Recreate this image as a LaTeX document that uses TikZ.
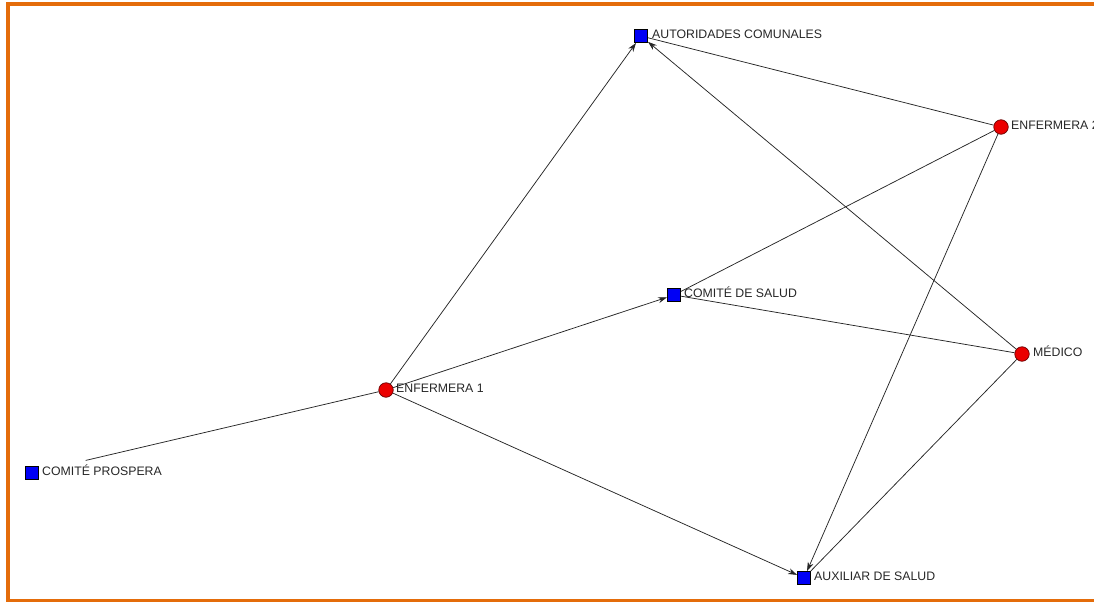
\documentclass[tikz,border=0pt]{standalone}
\usepackage{fontspec}
\setmainfont{Liberation Sans}
\usetikzlibrary{arrows.meta}
\definecolor{frameorange}{RGB}{228,108,10}
\definecolor{nodeblue}{RGB}{0,0,245}
\definecolor{nodered}{RGB}{235,0,0}
\begin{document}
\begin{tikzpicture}[x=1pt,y=-1pt,
  sq/.style={draw=black, fill=nodeblue, minimum size=13pt, inner sep=0pt, line width=0.9pt},
  ci/.style={circle, draw=black!60!red, fill=nodered, minimum size=14.5pt, inner sep=0pt, line width=0.7pt},
  lbl/.style={font=\fontsize{12.3}{14}\selectfont, text=black!85, inner sep=0pt, anchor=base west},
  edge/.style={draw=black!85, line width=0.75pt},
  arr/.style={edge, -{Stealth[length=9pt,width=6pt]}}]
\useasboundingbox (0,0) rectangle (1094,602);
\draw[frameorange, line width=3.5pt] (1100,4) -- (8,4) -- (8,600.5) -- (1100,600.5);

% nodes
\node[sq] (aut) at (641,36) {};
\node[ci] (e2) at (1001,127) {};
\node[sq] (cs) at (674,295) {};
\node[ci] (med) at (1022,354) {};
\node[ci] (e1) at (386,390) {};
\node[sq] (cp) at (32,473) {};
\node[sq] (aux) at (804,578) {};

% labels
\node[lbl] (autl) at (652,38.5) {AUTORIDADES COMUNALES};
\node[lbl] (e2l) at (1011,129.5) {ENFERMERA 2};
\node[lbl] (csl) at (684,297.5) {COMITÉ DE SALUD};
\node[lbl] (medl) at (1033,356.5) {MÉDICO};
\node[lbl] (e1l) at (396,392.5) {ENFERMERA 1};
\node[lbl] (cpl) at (42,475.5) {COMITÉ PROSPERA};
\node[lbl] (auxl) at (814,580.5) {AUXILIAR DE SALUD};

% edges
\draw[arr] (e1) -- (aut);
\draw[arr] (med) -- (aut);
\draw[edge] (e2) -- (aut);
\draw[arr] (e1) -- (cs);
\draw[edge] (cs) -- (e2);
\draw[edge] (cs) -- (med);
\draw[arr] (e1) -- (aux);
\draw[arr] (e2) -- (aux);
\draw[edge] (med) -- (aux);
\draw[edge, shorten >=48pt] (e1) -- (cp);
\end{tikzpicture}
\end{document}
